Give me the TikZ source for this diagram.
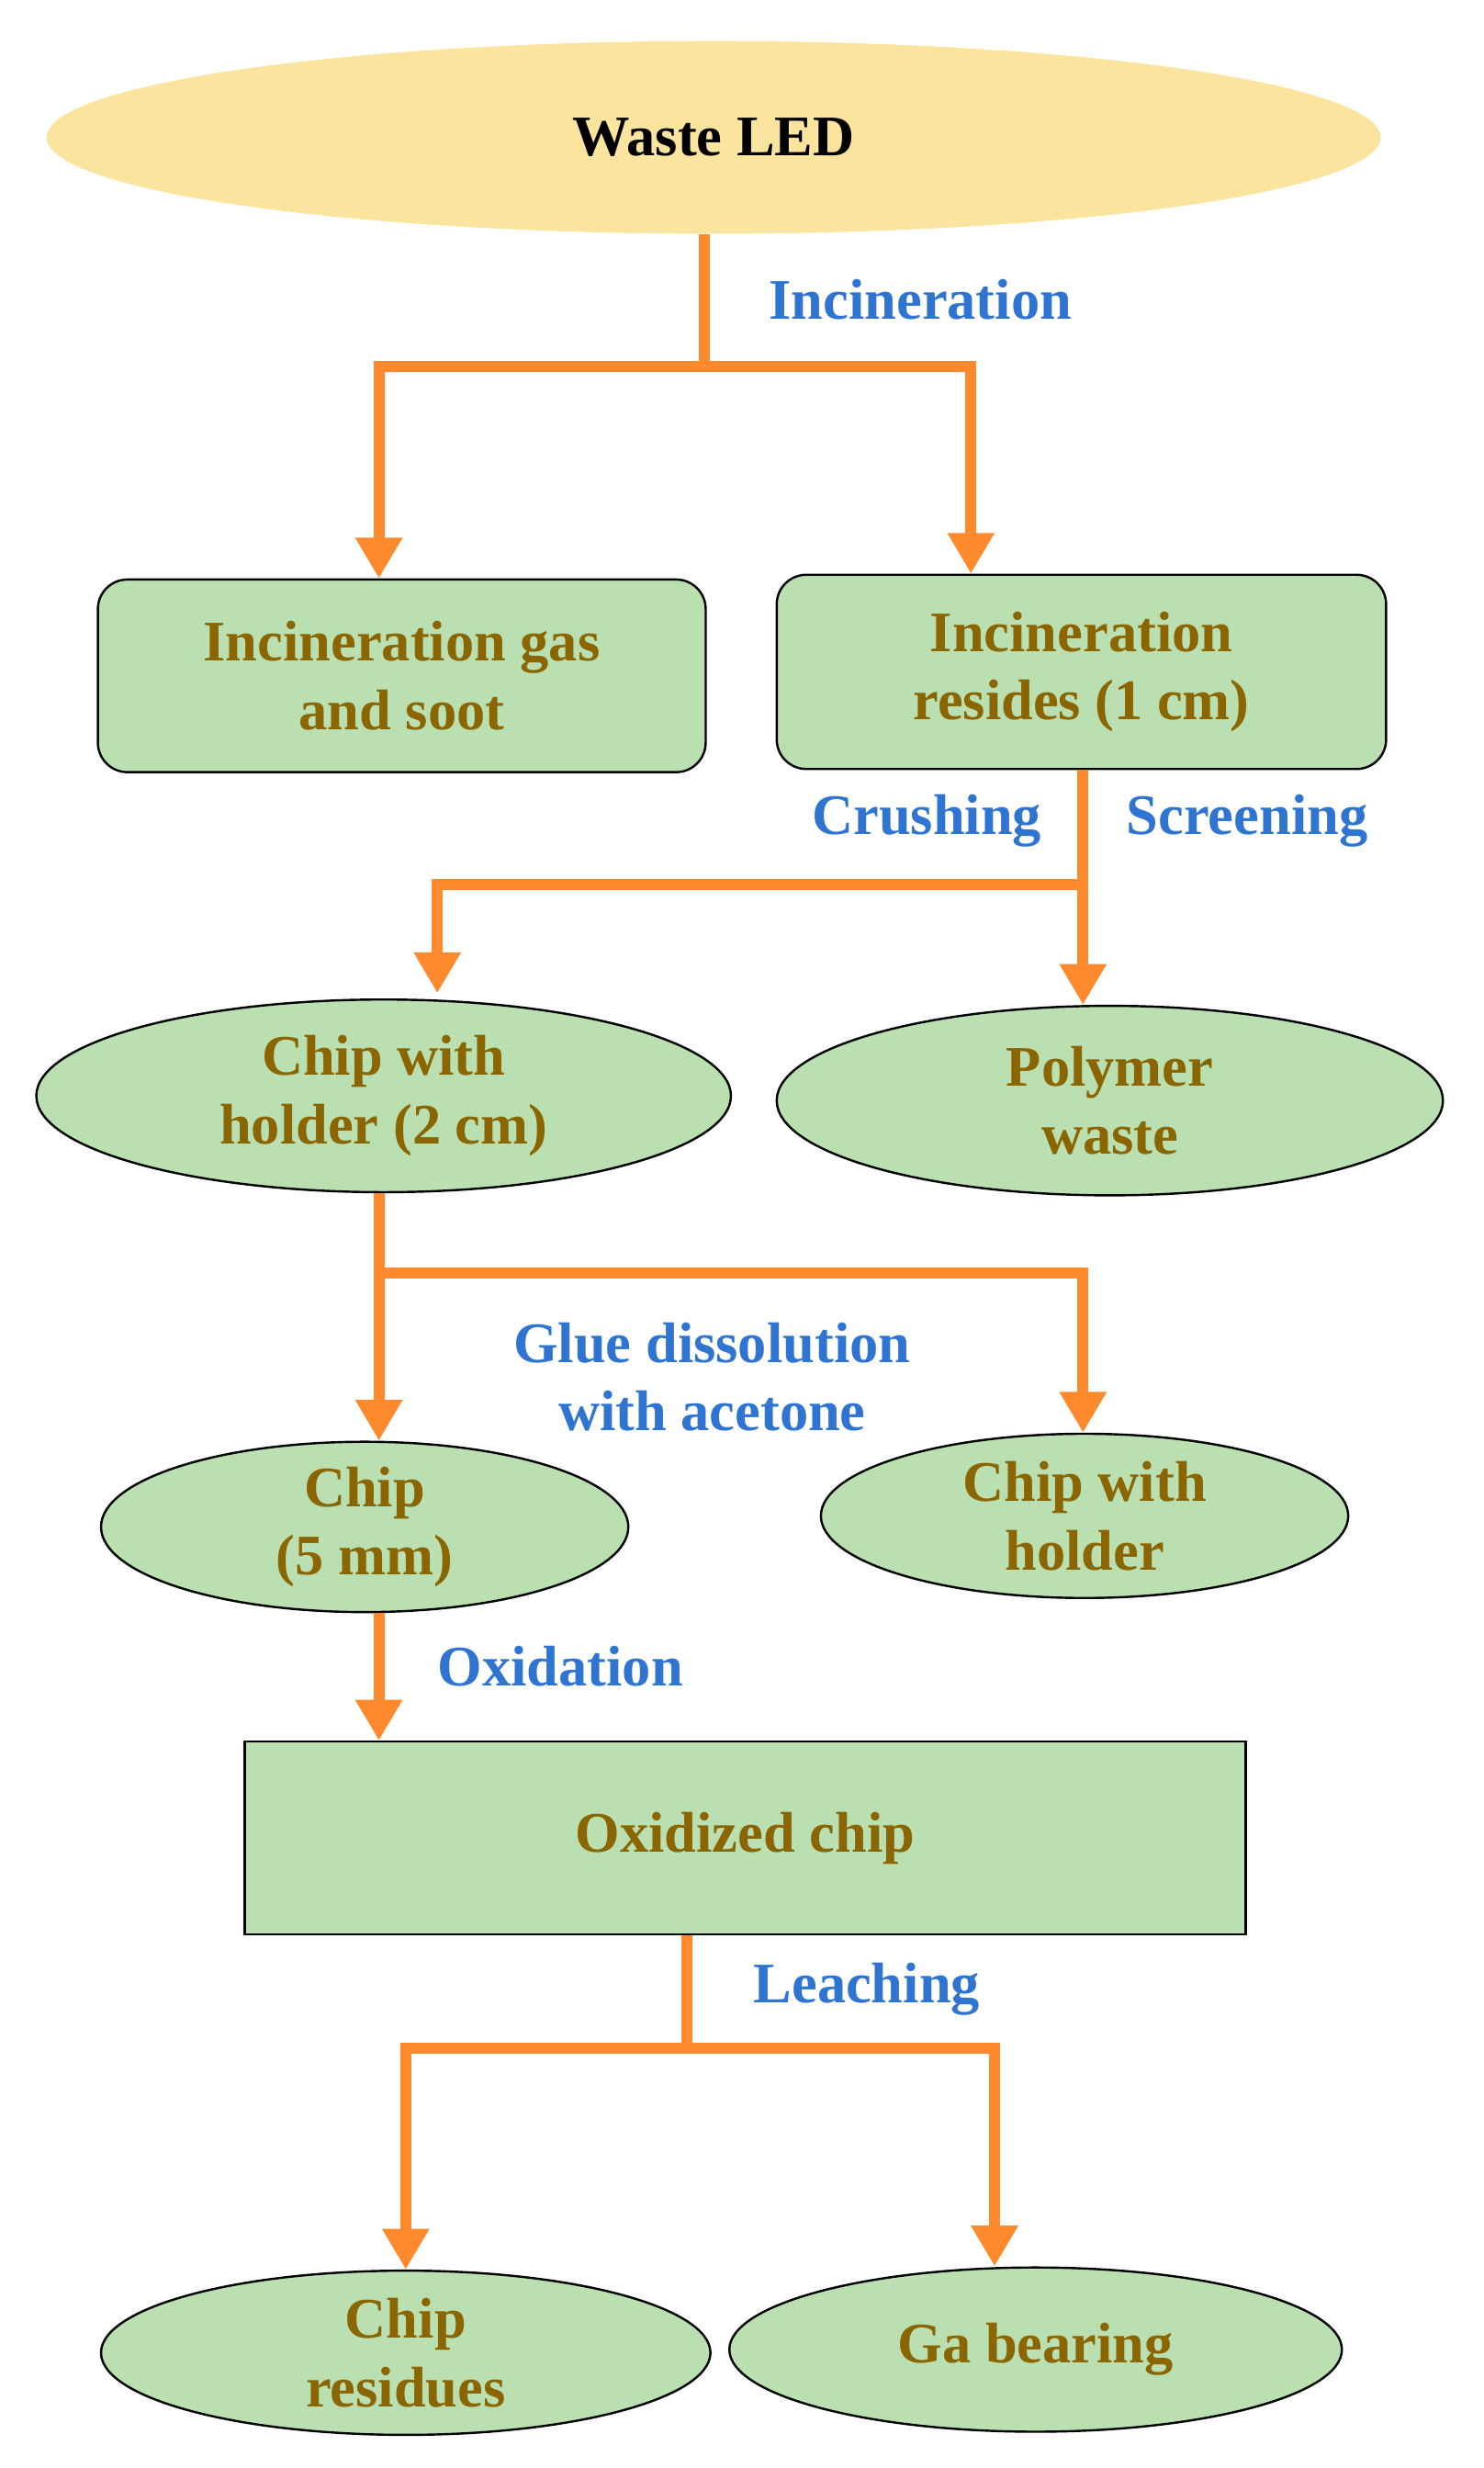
\documentclass[tikz,border=0pt]{standalone}
\usepackage{fontspec}
\setmainfont{Liberation Serif}
\usetikzlibrary{arrows.meta,shapes.geometric}
\definecolor{ledyellow}{HTML}{FBE49E}
\definecolor{boxgreen}{HTML}{BAE0B2}
\definecolor{txtbrown}{HTML}{8A6500}
\definecolor{lblblue}{HTML}{2E74D0}
\definecolor{flow}{HTML}{FF8A2E}
\tikzset{
  txt/.style={font=\fontsize{31}{37}\selectfont\bfseries, text=txtbrown, align=center},
  ell/.style={ellipse, draw=black, line width=1.2pt, fill=boxgreen, inner sep=0pt, txt},
  box/.style={draw=black, line width=1.2pt, fill=boxgreen, txt},
  lbl/.style={font=\fontsize{31}{37}\selectfont\bfseries, text=lblblue, align=center},
  ln/.style={draw=flow, line width=6pt},
  ar/.style={ln, -{Triangle[width=24pt,length=22pt]}},
}
\begin{document}
\begin{tikzpicture}[x=0.03cm,y=-0.03cm]
\useasboundingbox (0,0) rectangle (940,1563);
% nodes
\node[ellipse, fill=ledyellow, minimum width=845\pgflinewidth, txt, text=black,
  minimum width=25.35cm, minimum height=3.66cm] (led) at (452,87) {Waste LED};
\node[box, rounded corners=16pt, minimum width=11.55cm, minimum height=3.66cm] (gas) at (254.5,428) {Incineration gas\\and soot};
\node[box, rounded corners=16pt, minimum width=11.58cm, minimum height=3.69cm] (res) at (685,425.5) {Incineration\\resides (1 cm)};
\node[ell, minimum width=13.2cm, minimum height=3.66cm] (holder2) at (243,694) {Chip with\\holder (2 cm)};
\node[ell, minimum width=12.66cm, minimum height=3.6cm] (poly) at (703,697) {Polymer\\waste};
\node[ell, minimum width=10.02cm, minimum height=3.12cm] (chip) at (231,967) {Chip\\(5 mm)};
\node[ell, minimum width=10.02cm, minimum height=3.12cm] (holder) at (687,960) {Chip with\\holder};
\node[box, minimum width=19.02cm, minimum height=3.66cm] (ox) at (472,1164) {Oxidized chip};
\node[ell, minimum width=11.58cm, minimum height=3.12cm] (resid) at (257,1490) {Chip\\residues};
\node[ell, minimum width=11.64cm, minimum height=3.12cm] (ga) at (656,1488) {Ga bearing};
% branch points
\coordinate (b1) at (446,232);
\coordinate (b1l) at (240,232);
\coordinate (b1r) at (615,232);
\coordinate (b2) at (686,560);
\coordinate (b2l) at (277,560);
\coordinate (b3) at (240,806);
\coordinate (b3r) at (686,806);
\coordinate (b4) at (435,1297);
\coordinate (b4l) at (257,1297);
\coordinate (b4r) at (630,1297);
% connectors
\draw[ln] (led.south -| b1) -- (b1);
\draw[ar] (b1) -- (b1l) -- (gas.north -| b1l);
\draw[ar] (b1) -- (b1r) -- (res.north -| b1r);
\draw[ar] (res.south -| b2) -- (poly.north -| b2);
\draw[ar] (b2) -- (b2l) -- ([yshift=0.1cm]holder2.north -| b2l);
\draw[ar] (holder2.south -| b3) -- (chip.north -| b3);
\draw[ar] (b3) -- (b3r) -- (holder.north -| b3r);
\draw[ar] (chip.south -| b3) -- (ox.north -| b3);
\draw[ln] (ox.south -| b4) -- (b4);
\draw[ar] (b4) -- (b4l) -- (resid.north -| b4l);
\draw[ar] (b4) -- (b4r) -- (ga.north -| b4r);
% labels
\node[lbl] (l1) at (583,190) {Incineration};
\node[lbl] (l2) at (587,520) {Crushing};
\node[lbl] (l3) at (790,520) {Screening};
\node[lbl] (l4) at (451,872) {Glue dissolution\\with acetone};
\node[lbl] (l5) at (355,1055) {Oxidation};
\node[lbl] (l6) at (549,1260) {Leaching};
\end{tikzpicture}
\end{document}
